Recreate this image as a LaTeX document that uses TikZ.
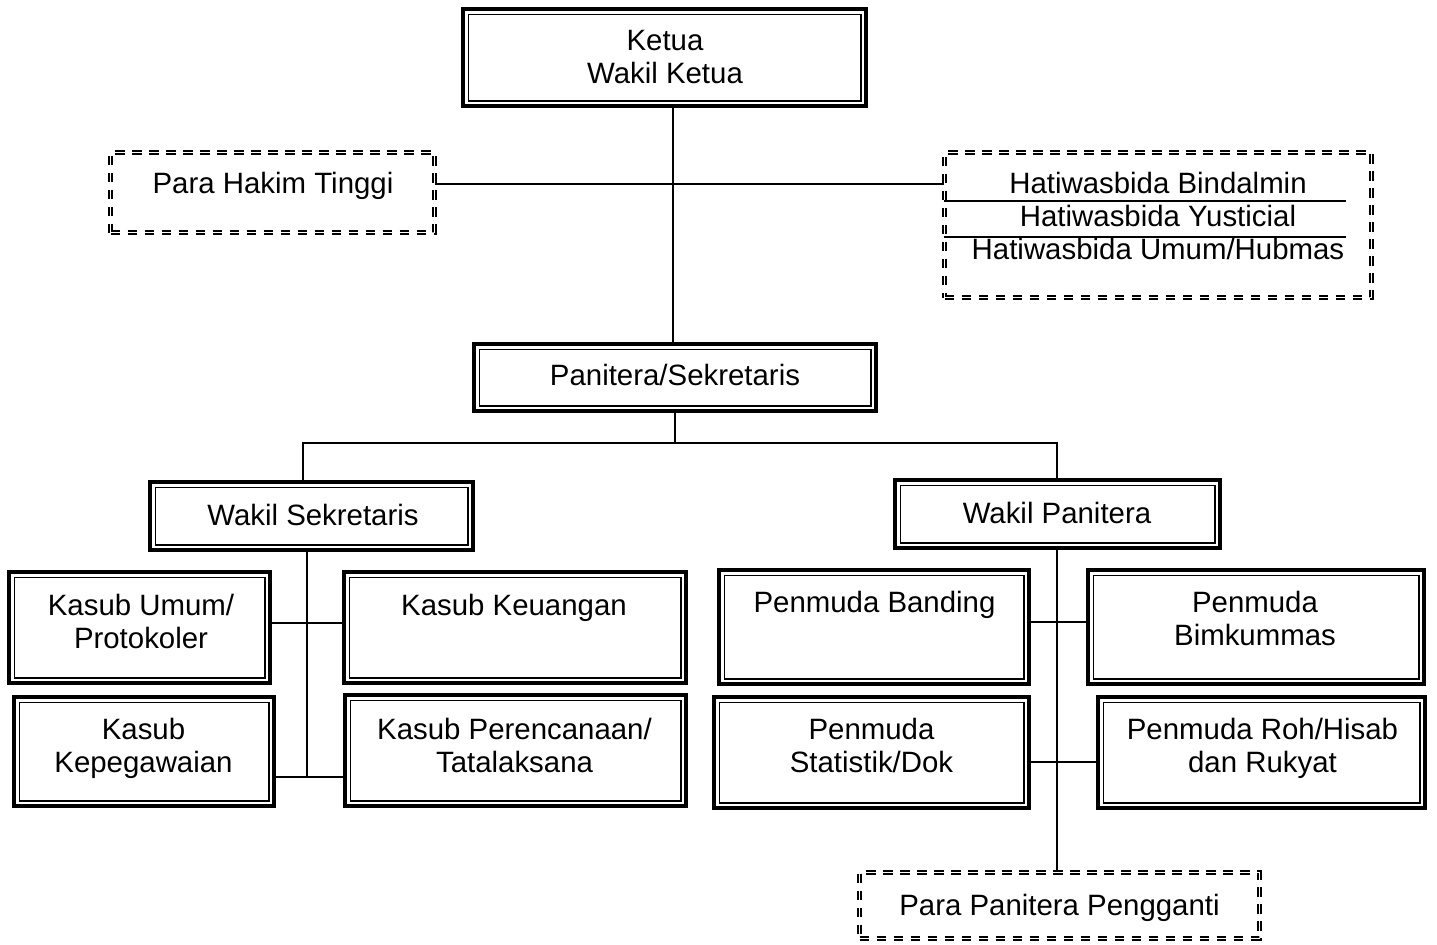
\documentclass[tikz,border=0pt]{standalone}
\usepackage{fontspec}
\setmainfont{Liberation Sans}
\begin{document}
\begin{tikzpicture}[x=0.5pt,y=-0.5pt,
  dbox/.style={draw, line width=1.8pt, rectangle, inner sep=0pt,
    path picture={\draw[line width=0.9pt]
      ([shift={(2.7pt,-2.7pt)}]path picture bounding box.north west) rectangle
      ([shift={(-2.7pt,2.7pt)}]path picture bounding box.south east);}},
  dashbox/.style={draw, rectangle, inner sep=0pt, line width=0.85pt, double, double distance=0.8pt,
    dash pattern=on 4.75pt off 3.75pt},
  txt/.style={font=\fontsize{14.7pt}{16.5pt}\selectfont, align=center, inner sep=0pt},
  conn/.style={line width=1pt},
  sep/.style={line width=0.75pt}]
\useasboundingbox (0,0) rectangle (1437,944);

% boxes
\node[dbox, minimum width=201.5pt, minimum height=48.5pt] (ketua) at (664.5,57.5) {};
\node[dashbox, minimum width=162pt, minimum height=40pt] (phak) at (272.5,192.5) {};
\node[dashbox, minimum width=213.5pt, minimum height=72.5pt] (hati) at (1158,225) {};
\node[dbox, minimum width=201pt, minimum height=33.5pt] (pan) at (675,377.5) {};
\node[dbox, minimum width=161.5pt, minimum height=34pt] (wsek) at (311.5,516) {};
\node[dbox, minimum width=162.5pt, minimum height=34pt] (wpan) at (1057.5,514) {};
\node[dbox, minimum width=130.5pt, minimum height=55.5pt] (kumum) at (139.5,627.5) {};
\node[dbox, minimum width=171pt, minimum height=55.5pt] (kkeu) at (515,627.5) {};
\node[dbox, minimum width=130pt, minimum height=54.5pt] (kpeg) at (144,751.5) {};
\node[dbox, minimum width=170.5pt, minimum height=55.5pt] (kren) at (515.5,750.5) {};
\node[dbox, minimum width=155pt, minimum height=57pt] (pban) at (874,627) {};
\node[dbox, minimum width=168pt, minimum height=57pt] (pbim) at (1256,627) {};
\node[dbox, minimum width=157.5pt, minimum height=55.5pt] (pstat) at (871.5,752.5) {};
\node[dbox, minimum width=163.5pt, minimum height=55.5pt] (proh) at (1261.5,752.5) {};
\node[dashbox, minimum width=200pt, minimum height=33pt] (ppp) at (1059.5,905.5) {};

% texts
\node[txt] (ketua-t) at (665,60.5) {\strut Ketua\\\strut Wakil Ketua};
\node[txt] (phak-t) at (273,186.8) {\strut Para Hakim Tinggi};
\node[txt] (hati-t) at (1158,219.8) {\strut Hatiwasbida Bindalmin\\\strut Hatiwasbida Yusticial\\\strut Hatiwasbida Umum/Hubmas};
\node[txt] (pan-t) at (675,378.8) {\strut Panitera/Sekretaris};
\node[txt] (wsek-t) at (313,518.8) {\strut Wakil Sekretaris};
\node[txt] (wpan-t) at (1057,516.8) {\strut Wakil Panitera};
\node[txt] (kumum-t) at (141,625.3) {\strut Kasub Umum/\\\strut Protokoler};
\node[txt] (kkeu-t) at (514,608.8) {\strut Kasub Keuangan};
\node[txt] (kpeg-t) at (143.5,749.3) {\strut Kasub\\\strut Kepegawaian};
\node[txt] (kren-t) at (514.5,749.3) {\strut Kasub Perencanaan/\\\strut Tatalaksana};
\node[txt] (pban-t) at (874.5,605.8) {\strut Penmuda Banding};
\node[txt] (pbim-t) at (1255,622.3) {\strut Penmuda\\\strut Bimkummas};
\node[txt] (pstat-t) at (871.5,749.8) {\strut Penmuda\\\strut Statistik/Dok};
\node[txt] (proh-t) at (1262.5,749.8) {\strut Penmuda Roh/Hisab\\\strut dan Rukyat};
\node[txt] (ppp-t) at (1059.5,908.8) {\strut Para Panitera Pengganti};

% separators inside Hatiwasbida box
\draw[sep] ([yshift=12pt]hati.west) -- ([xshift=-13.25pt,yshift=12pt]hati.east);
\draw[sep] ([yshift=-6pt]hati.west) -- ([xshift=-13.25pt,yshift=-6pt]hati.east);

% connectors
\coordinate (busL) at (303,443);
\coordinate (busR) at (1057,443);
\coordinate (lsp) at (307,777);
\draw[conn] ([xshift=-1pt]pan.north) -- ([xshift=-1pt]pan.north |- ketua.south);
\draw[conn] ([yshift=4.25pt]phak.east) -- ([yshift=4.25pt]phak.east -| hati.west);
\draw[conn] (pan.south) -- (pan.south |- busL);
\draw[conn] (wsek.north -| busL) -- (busL) -- (busR) -- (wpan.north -| busR);
\draw[conn] (wsek.south -| lsp) -- (lsp);
\draw[conn] ([yshift=2.25pt]kumum.east) -- ([yshift=2.25pt]kumum.east -| kkeu.west);
\draw[conn] (kpeg.east |- lsp) -- (kren.west |- lsp);
\draw[conn] (wpan.south -| busR) -- (ppp.north -| busR);
\draw[conn] ([yshift=2.5pt]pban.east) -- ([yshift=2.5pt]pban.east -| pbim.west);
\draw[conn] ([yshift=-4.75pt]pstat.east) -- ([yshift=-4.75pt]pstat.east -| proh.west);
\end{tikzpicture}
\end{document}
